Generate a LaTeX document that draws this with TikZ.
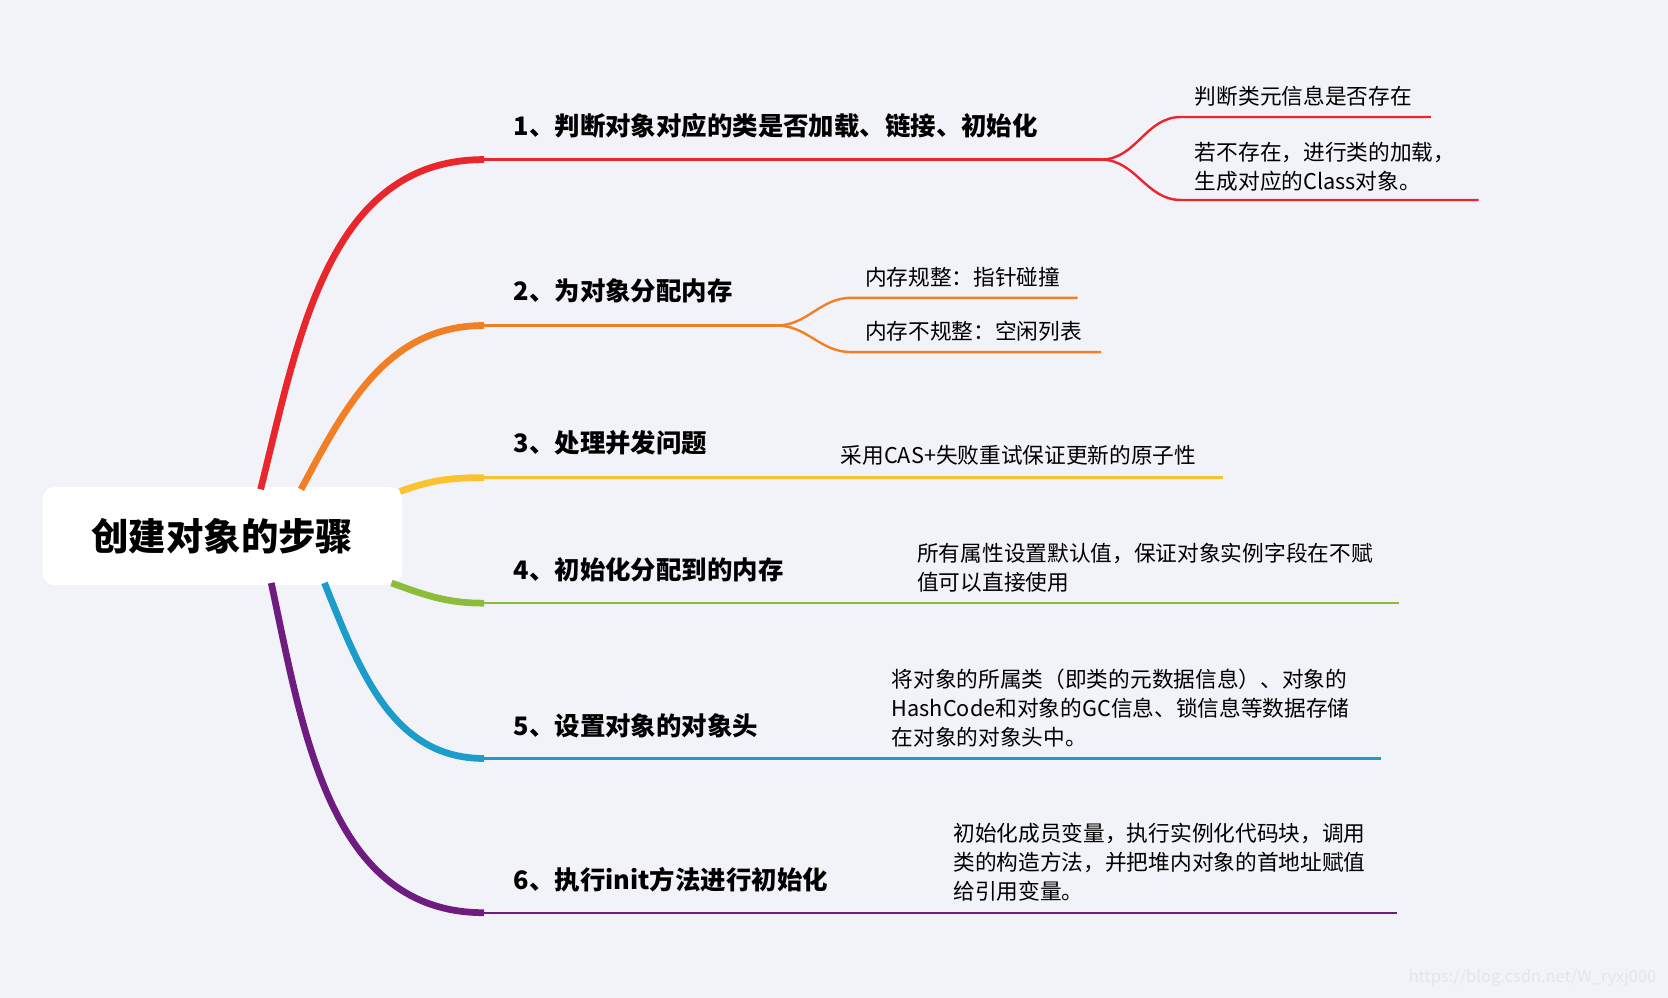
\documentclass[tikz,border=0pt]{standalone}
\usepackage{fontspec}
\setmainfont{Noto Sans CJK SC}
\newfontfamily\medfont{Noto Sans CJK SC Medium}
\usetikzlibrary{positioning}
\definecolor{bgc}{HTML}{F2F3F8}
\definecolor{cred}{HTML}{E8262B}
\definecolor{corange}{HTML}{F07F25}
\definecolor{cyellow}{HTML}{F9C22E}
\definecolor{cgreen}{HTML}{8DBB3A}
\definecolor{cblue}{HTML}{1B9CCB}
\definecolor{cpurple}{HTML}{6E1C80}

\begin{document}
\begin{tikzpicture}[x=0.025cm, y=-0.025cm,
        root/.style={fill=white, rounded corners=8pt, minimum width=338*0.025cm, minimum height=92*0.025cm, font=\fontsize{25}{30}\selectfont\bfseries},
        branch/.style={anchor=west, font=\fontsize{17}{20}\selectfont\bfseries},
        leaf/.style={anchor=south west, align=left, inner sep=0pt, font=\fontsize{14.5}{19.5}\selectfont},
        stem/.style={line width=4.5pt},
        twig/.style={line width=1.6pt}]

        \fill[bgc] (0,0) rectangle (1568,938);

        % Root
        \node[root] (root) at (209,504) {创建对象的步骤};
        \coordinate (r1) at (245,460); \coordinate (r2) at (283,460);
        \coordinate (r3) at (376,462); \coordinate (r4) at (368,548);
        \coordinate (r5) at (305,548); \coordinate (r6) at (255,548);

        % Branch labels
        \node[branch] (b1) at (478,118) {1、判断对象对应的类是否加载、链接、初始化};
        \node[branch] (b2) at (478,273) {2、为对象分配内存};
        \node[branch] (b3) at (478,416) {3、处理并发问题};
        \node[branch] (b4) at (478,536) {4、初始化分配到的内存};
        \node[branch] (b5) at (478,682) {5、设置对象的对象头};
        \node[branch] (b6) at (478,827) {6、执行init方法进行初始化};

        % Branch lines
        \coordinate (k1) at (455,150); \coordinate (e1) at (1035,150);
        \coordinate (k2) at (455,306); \coordinate (e2) at (730,306);
        \coordinate (k3) at (455,449); \coordinate (e3) at (1150,449);
        \coordinate (k4) at (455,567); \coordinate (e4) at (1315,567);
        \coordinate (k5) at (455,713); \coordinate (e5) at (1298,713);
        \coordinate (k6) at (455,858); \coordinate (e6) at (1313,858);

        \draw[stem, cred] (r1) to[out=76, in=180] (k1);
        \draw[stem, corange] (r2) to[out=62, in=180] (k2);
        \draw[stem, cyellow] (r3) to[out=20, in=180] (k3);
        \draw[stem, cgreen] (r4) to[out=-20, in=180] (k4);
        \draw[stem, cblue] (r5) to[out=-68, in=180] (k5);
        \draw[stem, cpurple] (r6) to[out=-78, in=180] (k6);

        \draw[twig, cred] (k1) -- (e1);
        \draw[twig, corange] (k2) -- (e2);
        \draw[twig, cyellow] (k3) -- (e3);
        \draw[twig, cgreen] (k4) -- (e4);
        \draw[twig, cblue] (k5) -- (e5);
        \draw[twig, cpurple] (k6) -- (e6);

        % Sub branches
        \coordinate (s11) at (1110,110); \coordinate (t11) at (1345,110);
        \coordinate (s12) at (1110,188); \coordinate (t12) at (1390,188);
        \coordinate (s21) at (800,280); \coordinate (t21) at (1013,280);
        \coordinate (s22) at (800,331); \coordinate (t22) at (1035,331);
        \draw[twig, cred] (e1) to[out=0, in=180] (s11) -- (t11);
        \draw[twig, cred] (e1) to[out=0, in=180] (s12) -- (t12);
        \draw[twig, corange] (e2) to[out=0, in=180] (s21) -- (t21);
        \draw[twig, corange] (e2) to[out=0, in=180] (s22) -- (t22);

        % Leaves
        \node[leaf] (l11) at (1123,100) {判断类元信息是否存在};
        \node[leaf] (l12) at (1123,180) {若不存在，进行类的加载，\\生成对应的Class对象。};
        \node[leaf] (l21) at (813,270) {内存规整：指针碰撞};
        \node[leaf] (l22) at (813,321) {内存不规整：空闲列表};
        \node[leaf] (l3) at (790,438) {采用CAS+失败重试保证更新的原子性};
        \node[leaf] (l4) at (862,557) {所有属性设置默认值，保证对象实例字段在不赋\\值可以直接使用};
        \node[leaf] (l5) at (838,703) {将对象的所属类（即类的元数据信息）、对象的\\HashCode和对象的GC信息、锁信息等数据存储\\在对象的对象头中。};
        \node[leaf] (l6) at (896,848) {初始化成员变量，执行实例化代码块，调用\\类的构造方法，并把堆内对象的首地址赋值\\给引用变量。};

        \node[anchor=south east, text=white!80!gray, font=\fontsize{11}{13}\selectfont] (wm) at (1562,932) {https://blog.csdn.net/W\_ryxj000};
    \end{tikzpicture}
\end{document}
